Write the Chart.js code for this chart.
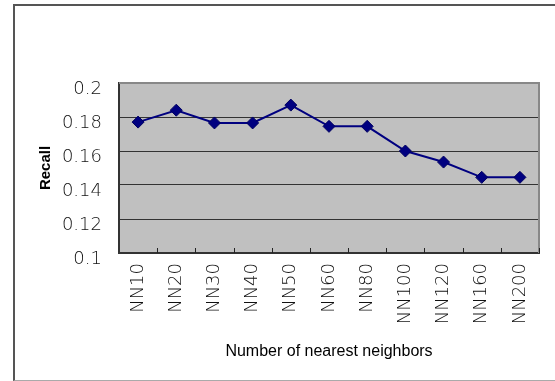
<!DOCTYPE html>
<html>
<head>
<meta charset="utf-8">
<script src="https://cdn.jsdelivr.net/npm/chart.js@4.4.1/dist/chart.umd.min.js"></script>
<style>
  html, body { margin: 0; padding: 0; background: #fff; overflow: hidden; }
  #wrap { position: relative; width: 555px; height: 381px; }
  #frame {
    position: absolute; left: 13px; top: 4px; width: 600px; height: 374px;
    border-left: 2px solid #555; border-top: 2px solid #555; border-bottom: 1px solid #aaa;
  }
  #c { position: absolute; left: 0; top: 0; }
</style>
</head>
<body>
<div id="wrap">
  <div id="frame"></div>
  <canvas id="c" width="555" height="381"></canvas>
</div>
<script>
// Recall measured for each neighbourhood size
const categories = ['NN10', 'NN20', 'NN30', 'NN40', 'NN50', 'NN60', 'NN80', 'NN100', 'NN120', 'NN160', 'NN200'];
const recall = [0.177, 0.184, 0.1765, 0.1765, 0.187, 0.1745, 0.1745, 0.160, 0.1535, 0.1445, 0.1445];
const yTicks = [0.1, 0.12, 0.14, 0.16, 0.18, 0.2];

Chart.defaults.font.family = "'Liberation Sans', Arial, sans-serif";
Chart.defaults.color = '#222';

const tickFont = { family: "'DejaVu Sans', sans-serif", size: 18, weight: 200 };

// Grey plot background, light frame on top/right and inward category ticks
const plotFrame = {
  id: 'plotFrame',
  beforeDraw(chart) {
    const { ctx, chartArea: a } = chart;
    ctx.save();
    ctx.fillStyle = '#c0c0c0';
    ctx.fillRect(a.left, a.top, a.right - a.left, a.bottom - a.top);
    ctx.restore();
  },
  beforeDatasetsDraw(chart) {
    const { ctx, chartArea: a } = chart;
    const xs = chart.scales.x;
    ctx.save();
    ctx.strokeStyle = '#888';
    ctx.lineWidth = 2;
    ctx.beginPath();
    ctx.moveTo(a.left, a.top);
    ctx.lineTo(a.right, a.top);
    ctx.lineTo(a.right, a.bottom);
    ctx.stroke();
    ctx.strokeStyle = '#222';
    ctx.lineWidth = 1;
    const n = xs.ticks.length;
    const step = (xs.right - xs.left) / n;
    ctx.beginPath();
    for (let i = 1; i <= n; i++) {
      const px = Math.round(xs.left + i * step) + 0.5;
      ctx.moveTo(px, a.bottom);
      ctx.lineTo(px, a.bottom - 5);
    }
    ctx.stroke();
    ctx.restore();
  }
};

new Chart(document.getElementById('c'), {
  type: 'line',
  data: {
    labels: categories,
    datasets: [{
      data: recall,
      borderColor: '#000080',
      backgroundColor: '#000080',
      borderWidth: 2,
      pointStyle: 'rectRot',
      pointRadius: 6,
      pointBorderWidth: 1,
      pointBorderColor: '#000060',
      pointBackgroundColor: '#000080',
      tension: 0,
      fill: false
    }]
  },
  options: {
    responsive: false,
    animation: false,
    events: [],
    layout: { padding: { left: 0, top: 83, right: 16, bottom: 0 } },
    plugins: { legend: { display: false }, tooltip: { enabled: false } },
    scales: {
      x: {
        offset: true,
        grid: { display: false, drawTicks: false },
        border: { display: true, color: '#333', width: 2 },
        ticks: {
          font: tickFont,
          color: '#111',
          minRotation: 90,
          maxRotation: 90,
          autoSkip: false,
          padding: 10
        },
        title: {
          display: true,
          text: 'Number of nearest neighbors',
          font: { size: 16 },
          color: '#000',
          padding: { top: 0, bottom: 20 }
        },
        afterFit(scale) { scale.height = 128; }
      },
      y: {
        min: 0.1,
        max: 0.2,
        afterBuildTicks(scale) { scale.ticks = yTicks.map(v => ({ value: v })); },
        grid: { color: '#333', lineWidth: 1, drawTicks: false },
        border: { display: true, color: '#333', width: 2 },
        ticks: {
          font: tickFont,
          color: '#111',
          padding: 17,
          labelOffset: 6,
          callback: v => String(Math.round(v * 100) / 100)
        },
        title: {
          display: true,
          text: 'Recall',
          font: { size: 15, weight: 'bold' },
          color: '#000',
          padding: { top: 37, bottom: 0 }
        },
        afterFit(scale) { scale.width = 119; }
      }
    }
  },
  plugins: [plotFrame]
});
</script>
</body>
</html>
